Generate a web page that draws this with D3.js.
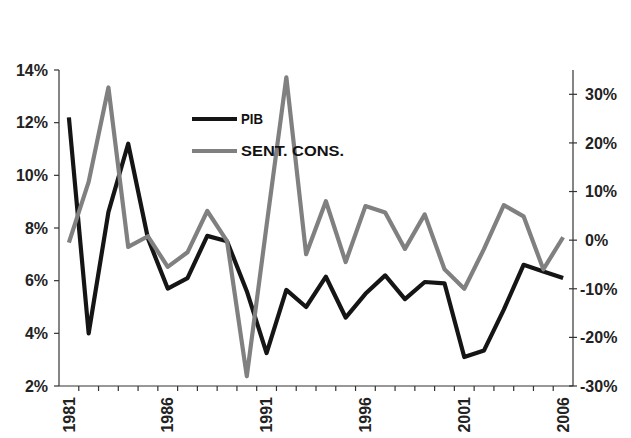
<!DOCTYPE html>
<html><head><meta charset="utf-8">
<script src="https://cdn.jsdelivr.net/npm/d3@7"></script>
<style>body{margin:0;background:#fff}svg{display:block}</style>
</head><body>
<script>
const years = d3.range(1981, 2007);
const pib = [12.2,4.0,8.6,11.2,7.6,5.7,6.1,7.7,7.5,5.6,3.25,5.65,5.0,6.15,4.6,5.5,6.2,5.3,5.95,5.9,3.1,3.35,4.9,6.6,6.35,6.1];
const sent = [-0.5,12,31.4,-1.4,0.8,-5.5,-2.5,6,-0.2,-28,3,33.5,-2.9,8,-4.5,7,5.7,-1.8,5.3,-6,-10,-1.8,7.2,4.9,-6,0.6];
const leftTicks = [2,4,6,8,10,12,14];
const rightTicks = [-30,-20,-10,0,10,20,30];
const yearLabels = [1981,1986,1991,1996,2001,2006];
const seriesNames = ["PIB","SENT. CONS."];

const W=631,H=438;
const svg=d3.select("body").append("svg").attr("width",W).attr("height",H);
const x=d3.scaleBand().domain(years).range([59,573]);
const yl=d3.scaleLinear().domain([2,14]).range([386,70]);
const yr=d3.scaleLinear().domain([-30,35]).range([386,70]);
const cx=d=>x(d)+x.bandwidth()/2;
const font="'Liberation Sans', Arial, sans-serif";

const ax=svg.append("g").attr("stroke","#333").attr("stroke-width",1.2);
ax.append("line").attr("x1",59).attr("x2",59).attr("y1",yl(14)).attr("y2",yl(2));
ax.append("line").attr("x1",573).attr("x2",573).attr("y1",yr(35)).attr("y2",yr(-30));
ax.append("line").attr("x1",59).attr("x2",573).attr("y1",yl(2)).attr("y2",yl(2));

leftTicks.forEach(t=>{
  ax.append("line").attr("x1",54).attr("x2",59).attr("y1",yl(t)).attr("y2",yl(t));
});
svg.append("g").selectAll("text").data(leftTicks).join("text")
  .attr("x",48).attr("y",d=>yl(d)).attr("dy","0.36em").attr("text-anchor","end")
  .attr("font-family",font).attr("font-size",16).attr("font-weight","bold").attr("fill","#222")
  .text(d=>d+"%");
rightTicks.forEach(t=>{
  ax.append("line").attr("x1",569).attr("x2",577).attr("y1",yr(t)).attr("y2",yr(t));
});
svg.append("g").selectAll("text").data(rightTicks).join("text")
  .attr("x",d=>d<0?580:585).attr("y",d=>yr(d)).attr("dy","0.36em").attr("text-anchor","start")
  .attr("font-family",font).attr("font-size",16).attr("font-weight","bold").attr("fill","#222")
  .text(d=>d+"%");
years.slice(1).forEach(yv=>{
  ax.append("line").attr("x1",x(yv)).attr("x2",x(yv)).attr("y1",386).attr("y2",391);
});
svg.append("g").selectAll("text").data(yearLabels).join("text")
  .attr("transform",d=>`translate(${cx(d)},397) rotate(-90)`)
  .attr("dy","0.36em").attr("text-anchor","end")
  .attr("font-family",font).attr("font-size",16).attr("font-weight","bold").attr("fill","#222")
  .text(d=>d);

const lineL=d3.line().x((d,i)=>cx(years[i])).y(d=>yl(d));
const lineR=d3.line().x((d,i)=>cx(years[i])).y(d=>yr(d));
svg.append("path").attr("d",lineL(pib)).attr("fill","none").attr("stroke","#151515").attr("stroke-width",4.2).attr("stroke-linejoin","round");
svg.append("path").attr("d",lineR(sent)).attr("fill","none").attr("stroke","#808080").attr("stroke-width",4.2).attr("stroke-linejoin","round");

const lg=svg.append("g");
[["#151515",119],["#808080",151]].forEach((c,i)=>{
  lg.append("line").attr("x1",192).attr("x2",237).attr("y1",c[1]).attr("y2",c[1]).attr("stroke",c[0]).attr("stroke-width",4.2);
  lg.append("text").attr("x",241).attr("y",c[1]).attr("dy","0.36em")
    .attr("font-family",font).attr("font-size",14).attr("font-weight","bold").attr("fill","#111")
    .attr("textLength",i==0?22:103).attr("lengthAdjust","spacingAndGlyphs")
    .text(seriesNames[i]);
});
</script>
</body></html>
